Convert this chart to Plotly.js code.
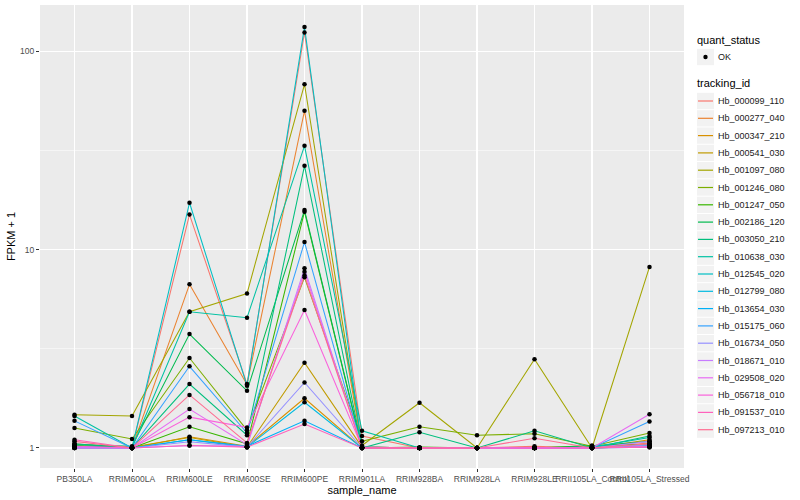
<!DOCTYPE html>
<html>
<head>
<meta charset="utf-8">
<script src="https://cdn.plot.ly/plotly-3.0.1.min.js"></script>
<style>html,body{margin:0;padding:0;background:#fff;}#chart{width:800px;height:500px;}</style>
</head>
<body>
<div id="chart"></div>
<script>
const samples = ["PB350LA","RRIM600LA","RRIM600LE","RRIM600SE","RRIM600PE","RRIM901LA","RRIM928BA","RRIM928LA","RRIM928LE","RRII105LA_Control","RRII105LA_Stressed"];

const trackingIds = ["Hb_000099_110","Hb_000277_040","Hb_000347_210","Hb_000541_030","Hb_001097_080","Hb_001246_080","Hb_001247_050","Hb_002186_120","Hb_003050_210","Hb_010638_030","Hb_012545_020","Hb_012799_080","Hb_013654_030","Hb_015175_060","Hb_016734_050","Hb_018671_010","Hb_029508_020","Hb_056718_010","Hb_091537_010","Hb_097213_010"];

const colors = ["#F8766D","#EA8331","#D89000","#C09B00","#A3A500","#7CAE00","#39B600","#00BB4E","#00BF7D","#00C1A3","#00BFC4","#00BAE0","#00B0F6","#35A2FF","#9590FF","#C77CFF","#E76BF3","#FA62DB","#FF62BC","#FF6C91"];

const quantStatus = ["OK"];

// FPKM + 1 per sample (order of `samples`)
const hb_000099_110 = [1.05, 1.00, 15.0, 2.10, 124, 1.15, 1.00, 1.00, 1.02, 1.00, 1.06];
const hb_000277_040 = [1.01, 1.00, 6.68, 2.09, 50.0, 1.01, 1.00, 1.00, 1.00, 1.01, 1.05];
const hb_000347_210 = [1.00, 1.00, 1.14, 1.02, 1.78, 1.00, 1.00, 1.00, 1.00, 1.00, 1.10];
const hb_000541_030 = [1.02, 1.01, 1.13, 1.01, 2.69, 1.01, 1.00, 1.00, 1.00, 1.00, 1.02];
const hb_001097_080 = [1.47, 1.45, 4.86, 6.00, 68.0, 1.03, 1.69, 1.00, 2.80, 1.00, 8.17];
const hb_001246_080 = [1.26, 1.11, 2.84, 1.23, 7.24, 1.08, 1.28, 1.16, 1.18, 1.02, 1.19];
const hb_001247_050 = [1.03, 1.00, 1.28, 1.05, 15.5, 1.00, 1.01, 1.00, 1.00, 1.03, 1.04];
const hb_002186_120 = [1.04, 1.02, 3.75, 1.94, 15.8, 1.01, 1.00, 1.00, 1.00, 1.02, 1.08];
const hb_003050_210 = [1.05, 1.00, 2.10, 1.16, 26.4, 1.00, 1.20, 1.00, 1.22, 1.00, 1.15];
const hb_010638_030 = [1.45, 1.00, 4.86, 4.53, 33.3, 1.22, 1.00, 1.00, 1.00, 1.01, 1.13];
const hb_012545_020 = [1.02, 1.00, 17.2, 2.06, 132, 1.01, 1.00, 1.00, 1.00, 1.00, 1.02];
const hb_012799_080 = [1.01, 1.00, 1.10, 1.01, 1.70, 1.00, 1.00, 1.00, 1.00, 1.00, 1.03];
const hb_013654_030 = [1.00, 1.00, 1.10, 1.02, 1.37, 1.00, 1.00, 1.00, 1.00, 1.00, 1.01];
const hb_015175_060 = [1.37, 1.00, 2.58, 1.19, 10.9, 1.00, 1.00, 1.00, 1.00, 1.00, 1.36];
const hb_016734_050 = [1.00, 1.00, 1.075, 1.01, 2.14, 1.00, 1.00, 1.00, 1.00, 1.00, 1.04];
const hb_018671_010 = [1.01, 1.00, 1.03, 1.02, 8.04, 1.00, 1.00, 1.00, 1.00, 1.00, 1.08];
const hb_029508_020 = [1.00, 1.00, 1.57, 1.04, 7.73, 1.00, 1.00, 1.00, 1.00, 1.00, 1.48];
const hb_056718_010 = [1.02, 1.00, 1.43, 1.27, 4.96, 1.01, 1.00, 1.00, 1.00, 1.00, 1.02];
const hb_091537_010 = [1.10, 1.00, 1.03, 1.01, 1.32, 1.00, 1.00, 1.00, 1.00, 1.00, 1.01];
const hb_097213_010 = [1.08, 1.00, 1.85, 1.06, 7.40, 1.00, 1.00, 1.00, 1.12, 1.00, 1.05];

const seriesValues = [hb_000099_110, hb_000277_040, hb_000347_210, hb_000541_030, hb_001097_080,
  hb_001246_080, hb_001247_050, hb_002186_120, hb_003050_210, hb_010638_030, hb_012545_020,
  hb_012799_080, hb_013654_030, hb_015175_060, hb_016734_050, hb_018671_010, hb_029508_020,
  hb_056718_010, hb_091537_010, hb_097213_010];

const yTickVals = [1, 10, 100];
const yTickText = ["1", "10", "100"];
const yMinorVals = [Math.sqrt(10), Math.sqrt(1000)];

const FONT = "Liberation Sans, Arial, Helvetica, sans-serif";

// plot area in pixels (for placing the legend in paper coordinates)
const W = 800, H = 500, ML = 40, MR = 116, MT = 5, MB = 32;
const px = x => (x - ML) / (W - ML - MR);
const py = y => (H - MB - y) / (H - MT - MB);

const traces = [];
seriesValues.forEach((vals, i) => {
  traces.push({
    type: "scatter", mode: "lines",
    x: samples, y: vals,
    name: trackingIds[i],
    line: {color: colors[i], width: 1.05},
    hoverinfo: "x+y+name"
  });
});
// all points (quant_status = OK) drawn on top of the lines
const allX = [], allY = [];
seriesValues.forEach(vals => vals.forEach((v, j) => { allX.push(samples[j]); allY.push(v); }));
traces.push({
  type: "scatter", mode: "markers",
  x: allX, y: allY, name: quantStatus[0],
  marker: {color: "#000000", size: 4.5}
});

// ggplot-style legend built from shapes + text annotations
const shapes = [], annotations = [];
const keyX0 = 697, keyX1 = 714, keyH = 17.3, labelX = 716;
annotations.push({xref: "paper", yref: "paper", x: px(695), y: py(40), xanchor: "left", yanchor: "middle",
  text: "quant_status", showarrow: false, font: {size: 11, family: FONT, color: "#000"}});
quantStatus.forEach((q, k) => {
  const cy = 57 + k * keyH;
  shapes.push({type: "rect", xref: "paper", yref: "paper", x0: px(keyX0), x1: px(keyX1),
    y0: py(cy - keyH / 2 + 0.5), y1: py(cy + keyH / 2 - 0.5), fillcolor: "#F2F2F2", line: {width: 0}, layer: "above"});
  shapes.push({type: "circle", xref: "paper", yref: "paper", x0: px(703.3), x1: px(707.7),
    y0: py(cy - 2.2), y1: py(cy + 2.2), fillcolor: "#000", line: {width: 0}, layer: "above"});
  annotations.push({xref: "paper", yref: "paper", x: px(labelX), y: py(cy), xanchor: "left", yanchor: "middle",
    text: q, showarrow: false, font: {size: 9, family: FONT, color: "#1A1A1A"}});
});
annotations.push({xref: "paper", yref: "paper", x: px(695), y: py(83), xanchor: "left", yanchor: "middle",
  text: "tracking_id", showarrow: false, font: {size: 11, family: FONT, color: "#000"}});
trackingIds.forEach((id, i) => {
  const cy = 101 + i * keyH;
  shapes.push({type: "rect", xref: "paper", yref: "paper", x0: px(keyX0), x1: px(keyX1),
    y0: py(cy - keyH / 2 + 0.5), y1: py(cy + keyH / 2 - 0.5), fillcolor: "#F2F2F2", line: {width: 0}, layer: "above"});
  shapes.push({type: "line", xref: "paper", yref: "paper", x0: px(keyX0 + 1), x1: px(keyX1 - 1),
    y0: py(cy), y1: py(cy), line: {color: colors[i], width: 1.2}, layer: "above"});
  annotations.push({xref: "paper", yref: "paper", x: px(labelX), y: py(cy), xanchor: "left", yanchor: "middle",
    text: id, showarrow: false, font: {size: 9, family: FONT, color: "#1A1A1A"}});
});

const layout = {
  width: W, height: H,
  paper_bgcolor: "#FFFFFF",
  plot_bgcolor: "#EBEBEB",
  font: {family: FONT, color: "#000000"},
  margin: {l: ML, r: MR, t: MT, b: MB},
  showlegend: false,
  xaxis: {
    type: "category",
    categoryorder: "array", categoryarray: samples,
    range: [-0.6, samples.length - 0.4],
    showgrid: true, gridcolor: "#FFFFFF", gridwidth: 1.1,
    zeroline: false, showline: false,
    ticks: "outside", ticklen: 3, tickcolor: "#333333", tickwidth: 1,
    tickangle: 0,
    tickfont: {size: 8.5, color: "#4D4D4D", family: FONT},
    title: {text: "sample_name", font: {size: 11, color: "#000000"}, standoff: 1},
    fixedrange: true
  },
  yaxis: {
    type: "log",
    range: [-0.1008, 2.232],
    tickmode: "array", tickvals: yTickVals, ticktext: yTickText,
    showgrid: true, gridcolor: "#FFFFFF", gridwidth: 1.1,
    minor: {tickmode: "array", tickvals: yMinorVals, showgrid: true, gridcolor: "#FFFFFF", gridwidth: 0.5, ticks: ""},
    zeroline: false, showline: false,
    ticks: "outside", ticklen: 3, tickcolor: "#333333", tickwidth: 1,
    tickfont: {size: 8.5, color: "#4D4D4D", family: FONT},
    title: {text: "FPKM + 1", font: {size: 11, color: "#000000"}, standoff: 2},
    fixedrange: true
  },
  shapes: shapes,
  annotations: annotations
};

Plotly.newPlot("chart", traces, layout, {displayModeBar: false, staticPlot: true});
</script>
</body>
</html>
